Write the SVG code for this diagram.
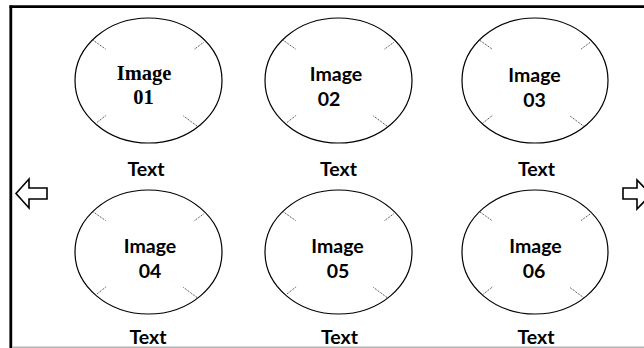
<svg xmlns="http://www.w3.org/2000/svg" width="644" height="348" viewBox="0 0 644 348">
  <defs>
    <style>
      .oval { fill: #ffffff; stroke: #000000; stroke-width: 1.2; }
      .tick { stroke: #333333; stroke-width: 1; stroke-dasharray: 1 1; fill: none; }
      .lbl { font-family: Lato, "Liberation Sans", sans-serif; font-weight: bold; font-size: 19.5px; fill: #000000; text-anchor: middle; }
      .lbl-serif { font-family: "Liberation Serif", serif; font-weight: bold; font-size: 20.5px; fill: #000000; text-anchor: middle; }
      .nav { fill: #ffffff; stroke: #000000; stroke-width: 1.6; stroke-linejoin: miter; }
    </style>
    <!-- dotted corner marks inside each oval, relative to its centre -->
    <g id="ticks">
      <line class="tick" x1="-55" y1="-40" x2="-43" y2="-31.5"/>
      <line class="tick" x1="55" y1="-38" x2="45.5" y2="-31"/>
      <line class="tick" x1="-51.5" y1="42" x2="-42" y2="34.5"/>
      <line class="tick" x1="48.5" y1="45.5" x2="35" y2="35.5"/>
    </g>
  </defs>

  <rect width="644" height="348" fill="#ffffff"/>

  <!-- frame -->
  <g id="frame">
    <line x1="9.5" y1="6.7" x2="644" y2="6.7" stroke="#000" stroke-width="2.7"/>
    <line x1="10.8" y1="5.4" x2="10.8" y2="348" stroke="#000" stroke-width="2.8"/>
    <line x1="12" y1="347.2" x2="644" y2="347.2" stroke="#b4b4b4" stroke-width="1.6"/>
  </g>

  <!-- navigation arrows -->
  <g id="nav-left">
    <polygon class="nav" points="16,193.5 29,179 29,188 47,188 47,199 29,199 29,208"/>
  </g>
  <g id="nav-right">
    <polygon class="nav" points="651,194.5 637,180 637,188 623,188 623,199 637,199 637,209"/>
  </g>

  <!-- row 1 -->
  <g id="item-01">
    <ellipse class="oval" cx="148.5" cy="80.5" rx="73.5" ry="62.5"/>
    <use href="#ticks" x="148.5" y="80.5"/>
    <text class="lbl-serif" x="144" y="80">Image</text>
    <text class="lbl-serif" x="143.5" y="104">01</text>
    <text class="lbl" x="146" y="176">Text</text>
  </g>
  <g id="item-02">
    <ellipse class="oval" cx="338.5" cy="80.5" rx="73.5" ry="62.5"/>
    <use href="#ticks" x="338.5" y="80.5"/>
    <text class="lbl" x="336" y="81">Image</text>
    <text class="lbl" x="329" y="106">02</text>
    <text class="lbl" x="338.5" y="176">Text</text>
  </g>
  <g id="item-03">
    <ellipse class="oval" cx="535" cy="80.5" rx="73" ry="62.5"/>
    <use href="#ticks" x="535" y="80.5"/>
    <text class="lbl" x="534.5" y="82">Image</text>
    <text class="lbl" x="534.5" y="107">03</text>
    <text class="lbl" x="536.5" y="176">Text</text>
  </g>

  <!-- row 2 -->
  <g id="item-04">
    <ellipse class="oval" cx="148.5" cy="252" rx="73.5" ry="62"/>
    <use href="#ticks" x="148.5" y="252"/>
    <text class="lbl" x="150" y="253">Image</text>
    <text class="lbl" x="150" y="278">04</text>
    <text class="lbl" x="148" y="344">Text</text>
  </g>
  <g id="item-05">
    <ellipse class="oval" cx="338.5" cy="252" rx="73.5" ry="62"/>
    <use href="#ticks" x="338.5" y="252"/>
    <text class="lbl" x="337.5" y="253">Image</text>
    <text class="lbl" x="338" y="278">05</text>
    <text class="lbl" x="339.5" y="344">Text</text>
  </g>
  <g id="item-06">
    <ellipse class="oval" cx="535" cy="252" rx="73" ry="62"/>
    <use href="#ticks" x="535" y="252"/>
    <text class="lbl" x="535.5" y="253">Image</text>
    <text class="lbl" x="534" y="278">06</text>
    <text class="lbl" x="536" y="344">Text</text>
  </g>
</svg>
